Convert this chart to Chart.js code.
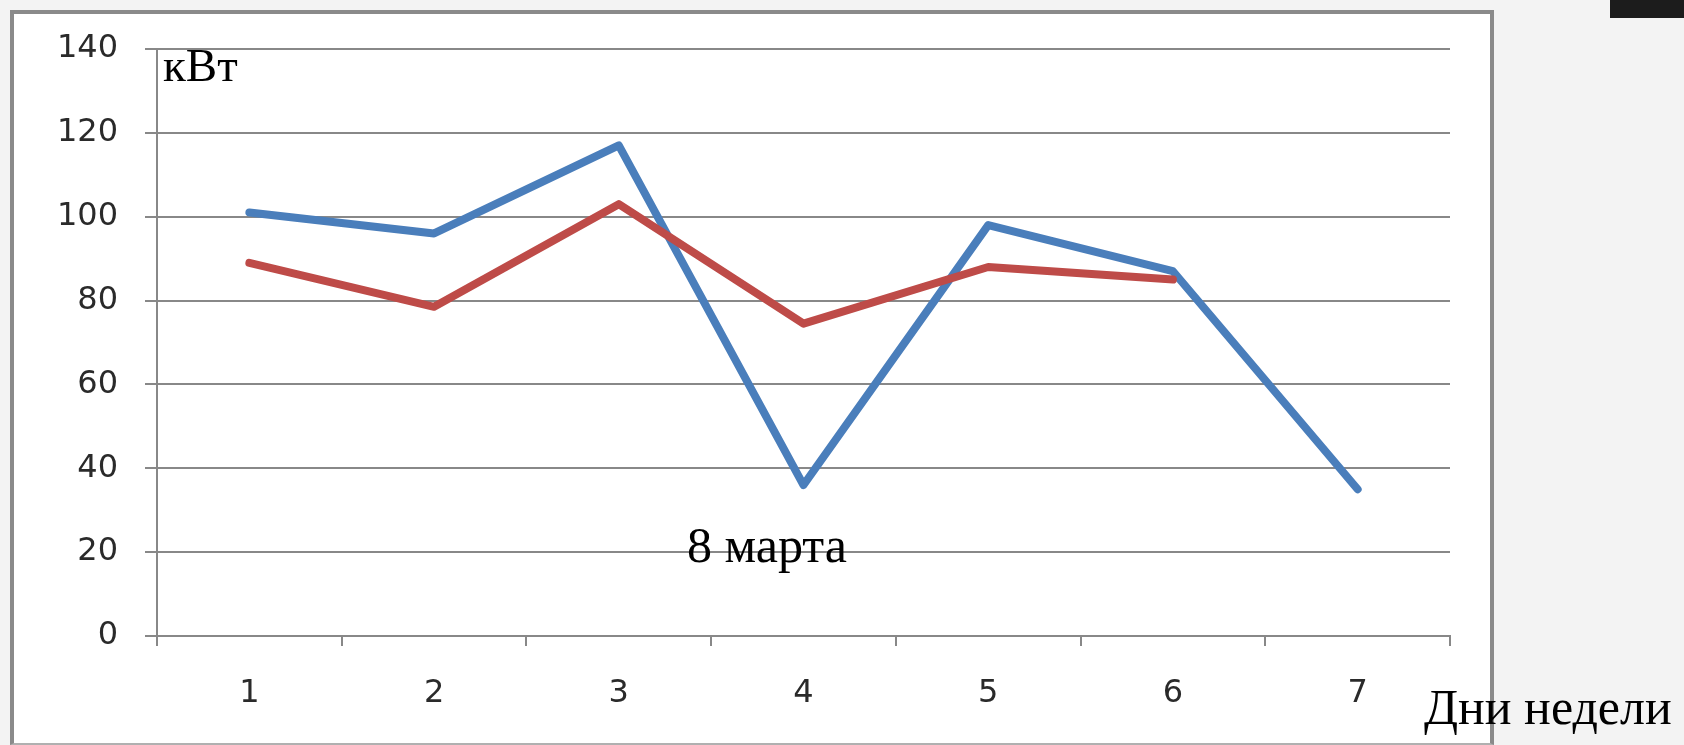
<!DOCTYPE html>
<html lang="ru">
<head>
  <meta charset="UTF-8">
  <title>кВт по дням недели</title>
  <script src="https://cdn.jsdelivr.net/npm/chart.js"></script>
  <style>
    html, body {
      margin: 0;
      padding: 0;
      width: 1684px;
      height: 745px;
      overflow: hidden;
      background: #f3f3f3;
    }

    .frame {
      position: absolute;
      left: 10px;
      top: 10px;
      width: 1476px;
      height: 729px;
      border: 4px solid #8a8a8a;
      border-bottom: 2px solid #b0b0b0;
      background: #fff;
    }

    canvas {
      position: absolute;
      left: 0;
      top: 0;
    }

    .note {
      position: absolute;
      font-family: "Liberation Serif", serif;
      line-height: 1;
      color: #000;
      white-space: nowrap;
    }

    .corner {
      position: absolute;
      left: 1610px;
      top: 0;
      width: 74px;
      height: 18px;
      background: #1c1c1c;
    }
  </style>
</head>
<body>
  <div class="frame"></div>
  <div class="corner"></div>
  <canvas id="lineChart" width="1684" height="745"></canvas>
  <span class="note" style="left:163px; top:42px; font-size:47px;">кВт</span>
  <span class="note" style="left:687px; top:520px; font-size:50px;">8 марта</span>
  <span class="note" style="left:1424px; top:682px; font-size:50px;">Дни недели</span>

  <script>
    // days of the week and the two series
    const days = ["1", "2", "3", "4", "5", "6", "7"];
    const seriesBlue = [101, 96, 117, 36, 98, 87, 35];
    const seriesRed = [89, 78.5, 103, 74.5, 88, 85, null];
    const yTicks = [0, 20, 40, 60, 80, 100, 120, 140];

    const gridGray = "#888888";
    const tickFont = { family: "'DejaVu Sans', sans-serif", size: 32 };

    const ctx = document.getElementById("lineChart").getContext("2d");

    new Chart(ctx, {
      type: "line",
      data: {
        labels: days,
        datasets: [{
          data: seriesBlue,
          borderColor: "#4a7ebb",
          borderWidth: 8,
          borderCapStyle: "round",
          borderJoinStyle: "round",
          pointRadius: 0,
          tension: 0,
          order: 1,
        }, {
          data: seriesRed,
          borderColor: "#be4b48",
          borderWidth: 8,
          borderCapStyle: "round",
          borderJoinStyle: "round",
          pointRadius: 0,
          tension: 0,
          spanGaps: false,
          order: 0,
        }],
      },
      options: {
        responsive: false,
        animation: false,
        devicePixelRatio: 1,
        layout: {
          padding: { left: 0, top: 49, right: 234, bottom: 0 },
        },
        plugins: {
          legend: { display: false },
          tooltip: { enabled: false },
        },
        scales: {
          x: {
            offset: true,
            grid: {
              offset: true,
              drawOnChartArea: false,
              drawTicks: true,
              tickLength: 10,
              color: gridGray,
              lineWidth: 2,
            },
            border: { color: gridGray, width: 2 },
            ticks: {
              color: "#2a2a2a",
              font: tickFont,
              padding: 28,
              autoSkip: false,
              maxRotation: 0,
            },
            afterFit: (scale) => { scale.height = 109; },
          },
          y: {
            min: 0,
            max: 140,
            afterBuildTicks: (scale) => {
              scale.ticks = yTicks.map(v => ({ value: v }));
            },
            grid: {
              color: gridGray,
              lineWidth: 2,
              tickLength: 12,
            },
            border: { color: gridGray, width: 2 },
            ticks: {
              color: "#2a2a2a",
              font: tickFont,
              padding: 27,
            },
            afterFit: (scale) => { scale.width = 157; },
          },
        },
      },
    });
  </script>
</body>
</html>
